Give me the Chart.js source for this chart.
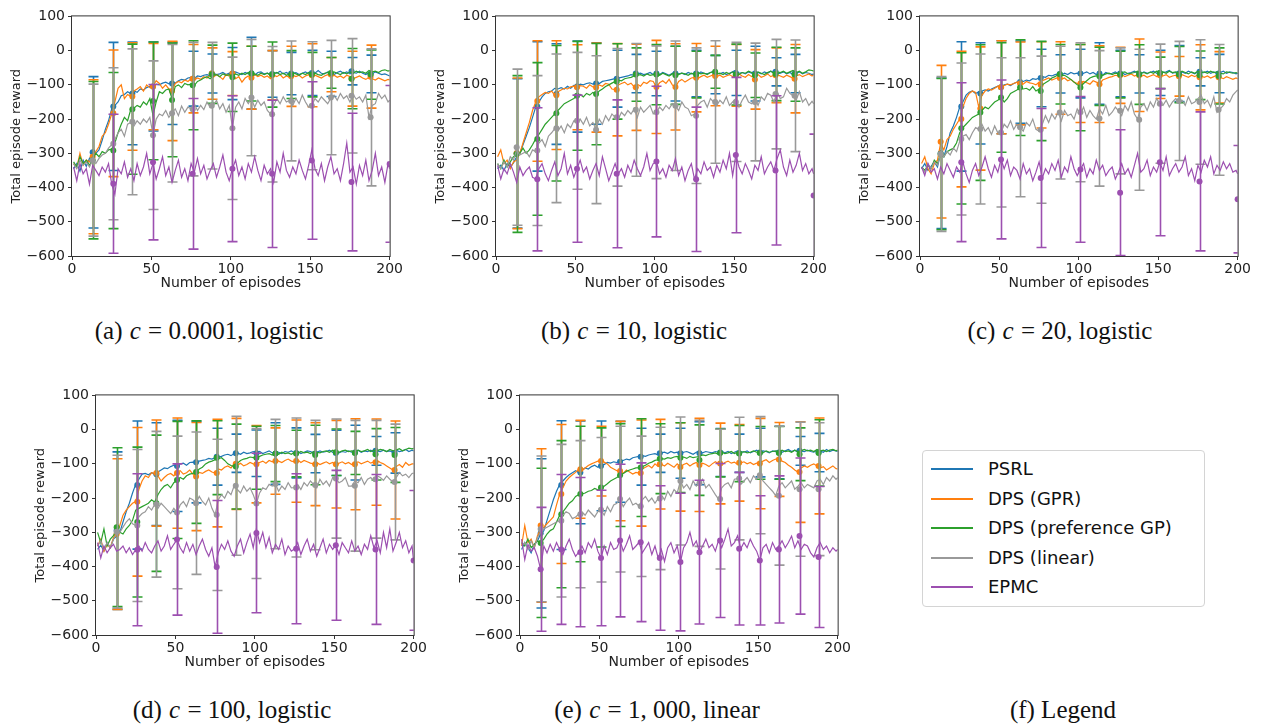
<!DOCTYPE html>
<html>
<head>
<meta charset="utf-8">
<script src="https://cdn.jsdelivr.net/npm/chart.js@4.4.1/dist/chart.umd.min.js"></script>
<style>
  body { margin: 0; background: #fff; width: 1263px; height: 724px; position: relative; overflow: hidden; font-family: "DejaVu Sans", sans-serif; }
  canvas { position: absolute; }
  .cap { position: absolute; font-family: "Liberation Serif", serif; font-size: 25px; line-height: 30px; white-space: nowrap; transform: translateX(-50%); color: #111; }
  .cap i { margin: 0 1px; }
  #legend { position: absolute; left: 922px; top: 450px; width: 281px; height: 155px; border: 1px solid #d4d4d4; border-radius: 4px; }
  #legend .row { position: absolute; left: 0; height: 24px; }
  #legend .sw { position: absolute; left: 8px; top: 11px; width: 42px; height: 2px; }
  #legend .lb { position: absolute; left: 65px; top: 0; font-size: 18px; line-height: 24px; color: #111; white-space: nowrap; }
</style>
</head>
<body>
<canvas id="ca" width="400" height="300"></canvas>
<canvas id="cb" width="400" height="300"></canvas>
<canvas id="cc" width="400" height="300"></canvas>
<canvas id="cd" width="400" height="300"></canvas>
<canvas id="ce" width="400" height="300"></canvas>

<div class="cap" style="left:209px;top:316px">(a) <i>c</i> = 0.0001, logistic</div>
<div class="cap" style="left:634px;top:316px">(b) <i>c</i> = 10, logistic</div>
<div class="cap" style="left:1060px;top:316px">(c) <i>c</i> = 20, logistic</div>
<div class="cap" style="left:232px;top:695px">(d) <i>c</i> = 100, logistic</div>
<div class="cap" style="left:657px;top:695px">(e) <i>c</i> = 1, 000, linear</div>
<div class="cap" style="left:1063px;top:695px">(f) Legend</div>

<div id="legend"></div>

<script>
// episodes (x) for the reward curves, bars every ~12.5 episodes
const episodes = Array.from({ length: 100 }, (_, i) => 2 * i + 1).concat([200]);
const barX = [13, 26, 38, 51, 63, 76, 88, 101, 113, 126, 138, 151, 163, 176, 188];
const barX25 = [26, 51, 76, 101, 126, 151, 176, 200];

const seriesNames = ['PSRL', 'DPS (GPR)', 'DPS (preference GP)', 'DPS (linear)', 'EPMC'];
const seriesColors = ['#1f77b4', '#ff7f0e', '#2ca02c', '#999999', '#9c4fb0'];
const xTicks = [0, 50, 100, 150, 200];
const yTicks = [100, 0, -100, -200, -300, -400, -500, -600];

// ---- (a) c = 0.0001, logistic ----
const psrlA = [-345,-330,-352,-320,-338,-315,-305,-300,-290,-262,
  -230,-205,-170,-160,-150,-132,-128,-120,-125,-118,
  -122,-112,-115,-108,-104,-106,-98,-100,-95,-92,
  -97,-92,-95,-88,-84,-86,-80,-78,-82,-74,
  -76,-72,-70,-74,-66,-70,-68,-64,-70,-66,
  -68,-62,-66,-70,-64,-68,-66,-72,-64,-62,
  -68,-66,-70,-64,-66,-60,-68,-64,-70,-66,
  -64,-70,-66,-62,-68,-64,-66,-58,-66,-68,
  -62,-66,-70,-64,-60,-66,-62,-68,-64,-66,
  -60,-66,-70,-64,-68,-62,-66,-70,-68,-72, -74];
const gprA = [-330,-342,-300,-335,-320,-325,-310,-295,-280,-250,
  -240,-215,-185,-150,-110,-100,-140,-128,-134,-118,
  -112,-105,-118,-100,-108,-104,-88,-96,-110,-100,
  -112,-118,-96,-90,-94,-86,-90,-82,-86,-80,
  -84,-76,-80,-72,-78,-70,-76,-84,-70,-74,
  -68,-82,-76,-92,-80,-74,-78,-70,-76,-72,
  -78,-74,-82,-72,-76,-70,-80,-74,-78,-72,
  -76,-72,-80,-74,-70,-78,-72,-76,-80,-74,
  -70,-76,-72,-78,-74,-80,-72,-76,-82,-78,
  -74,-80,-84,-78,-82,-86,-80,-84,-88,-84, -86];
const prefA = [-325,-340,-310,-330,-320,-335,-318,-300,-310,-295,
  -300,-290,-288,-270,-240,-215,-195,-205,-172,-168,
  -160,-165,-150,-158,-140,-190,-150,-120,-125,-115,
  -112,-140,-105,-100,-108,-96,-100,-98,-102,-90,
  -86,-80,-76,-82,-72,-70,-76,-68,-72,-70,
  -74,-68,-72,-66,-70,-64,-70,-68,-72,-66,
  -70,-66,-72,-68,-64,-70,-66,-72,-68,-64,
  -68,-72,-66,-70,-64,-68,-66,-70,-72,-66,
  -64,-68,-62,-66,-70,-64,-68,-62,-66,-60,
  -64,-62,-66,-58,-62,-60,-64,-58,-56,-60, -58];
const linA = [-330,-345,-320,-335,-325,-340,-320,-330,-315,-305,
  -300,-285,-275,-260,-240,-230,-250,-215,-210,-220,
  -205,-215,-200,-210,-195,-245,-200,-185,-190,-175,
  -195,-183,-170,-190,-162,-180,-165,-170,-155,-175,
  -160,-172,-150,-165,-160,-145,-170,-155,-180,-160,
  -225,-165,-150,-170,-140,-155,-140,-165,-145,-160,
  -150,-175,-185,-160,-140,-155,-135,-150,-145,-160,
  -140,-155,-130,-150,-165,-160,-140,-150,-135,-145,
  -155,-138,-130,-145,-125,-140,-132,-150,-128,-142,
  -135,-150,-130,-195,-160,-155,-125,-140,-130,-150, -145];
const epmcA = [-340,-380,-330,-360,-345,-390,-335,-350,-365,-340,
  -355,-330,-390,-420,-345,-360,-325,-370,-345,-380,
  -330,-365,-340,-300,-360,-330,-375,-345,-310,-365,
  -340,-385,-350,-320,-370,-345,-380,-330,-355,-315,
  -360,-335,-375,-350,-330,-370,-340,-305,-355,-380,
  -345,-320,-365,-340,-375,-330,-355,-310,-350,-380,
  -335,-360,-345,-385,-325,-355,-300,-350,-370,-340,
  -360,-320,-350,-375,-335,-290,-345,-365,-330,-380,
  -340,-310,-360,-345,-380,-330,-270,-355,-340,-390,
  -335,-365,-320,-380,-350,-300,-365,-340,-385,-330, -345];
const psrlMeanA = [-297,-163,-125,-105,-96,-82,-67,-67,-66,-68,-67,-65,-68,-60,-68];
const psrlErrA = [221,187,150,130,120,80,57,76,105,68,62,66,66,40,55];
const gprMeanA = [-310,-183,-134,-105,-118,-82,-67,-67,-79,-72,-75,-72,-70,-82,-76];
const gprErrA = [225,185,157,126,145,100,75,64,92,72,88,92,50,80,92];
const prefMeanA = [-320,-292,-171,-147,-144,-101,-69,-78,-67,-70,-70,-70,-65,-82,-70];
const prefErrA = [230,228,190,172,166,130,85,100,80,95,70,65,45,88,72];
const linMeanA = [-320,-272,-208,-247,-183,-171,-161,-227,-137,-186,-147,-161,-137,-132,-195];
const linErrA = [222,222,213,217,201,195,185,208,170,198,175,187,167,167,200];
const epmcMeanA = [-389,-326,-360,-345,-360,-321,-384,-331];
const epmcErrA = [203,227,220,213,215,230,201,229];

// ---- (b) c = 10, logistic ----
const psrlB = [-345,-335,-350,-330,-340,-328,-310,-300,-275,-250,
  -225,-195,-165,-150,-135,-125,-120,-118,-110,-112,
  -108,-112,-104,-110,-102,-106,-98,-100,-96,-94,
  -98,-94,-96,-90,-88,-86,-84,-82,-80,-78,
  -76,-74,-70,-72,-68,-66,-70,-68,-64,-70,
  -66,-70,-64,-68,-72,-66,-62,-68,-66,-70,
  -64,-68,-66,-70,-62,-66,-68,-64,-60,-66,
  -68,-64,-70,-66,-62,-58,-66,-64,-68,-62,
  -66,-70,-64,-68,-62,-66,-60,-64,-68,-66,
  -62,-68,-64,-70,-66,-62,-68,-64,-66,-70, -68];
const gprB = [-310,-290,-330,-320,-345,-325,-320,-300,-270,-240,
  -210,-175,-150,-135,-128,-122,-125,-118,-130,-120,
  -115,-110,-112,-106,-104,-108,-102,-104,-110,-100,
  -106,-108,-100,-104,-96,-98,-112,-114,-100,-96,
  -92,-100,-95,-106,-98,-104,-92,-96,-88,-90,
  -106,-94,-88,-96,-84,-100,-107,-90,-84,-92,
  -86,-80,-78,-82,-76,-72,-78,-74,-70,-76,
  -72,-78,-74,-70,-76,-72,-68,-74,-78,-70,
  -76,-72,-70,-78,-74,-68,-76,-72,-70,-74,
  -78,-72,-76,-80,-74,-70,-76,-72,-68,-74, -70];
const prefB = [-330,-345,-320,-340,-325,-310,-305,-300,-285,-300,
  -290,-275,-258,-245,-230,-215,-205,-195,-185,-175,
  -165,-155,-150,-145,-140,-132,-128,-135,-125,-130,
  -122,-127,-118,-112,-105,-100,-95,-90,-86,-88,
  -82,-80,-78,-74,-72,-70,-74,-68,-72,-70,
  -68,-72,-66,-70,-74,-68,-64,-70,-66,-68,
  -72,-66,-70,-64,-68,-66,-70,-64,-62,-68,
  -66,-70,-64,-68,-62,-66,-70,-64,-66,-60,
  -64,-68,-62,-66,-70,-64,-60,-66,-62,-64,
  -60,-66,-62,-58,-64,-60,-66,-62,-56,-58, -60];
const linB = [-330,-345,-325,-340,-310,-320,-290,-305,-300,-295,
  -310,-290,-295,-270,-260,-280,-250,-240,-228,-235,
  -220,-240,-215,-225,-205,-210,-200,-215,-195,-220,
  -210,-230,-200,-215,-190,-205,-185,-195,-200,-180,
  -190,-175,-185,-170,-195,-165,-180,-170,-160,-185,
  -180,-165,-175,-160,-170,-155,-162,-175,-150,-165,
  -170,-190,-185,-160,-150,-145,-165,-140,-150,-160,
  -145,-155,-135,-160,-150,-140,-165,-145,-130,-150,
  -155,-140,-160,-135,-145,-125,-130,-150,-120,-140,
  -135,-110,-125,-132,-145,-120,-150,-140,-160,-148, -155];
const epmcB = [-335,-375,-345,-360,-330,-355,-385,-340,-365,-350,
  -340,-370,-375,-345,-330,-360,-380,-350,-325,-365,
  -345,-300,-360,-335,-370,-345,-320,-355,-340,-375,
  -350,-330,-365,-310,-345,-380,-355,-330,-360,-345,
  -370,-335,-355,-320,-345,-365,-340,-300,-350,-330,
  -324,-360,-345,-370,-335,-350,-315,-365,-340,-380,
  -350,-330,-376,-345,-360,-325,-350,-340,-370,-335,
  -355,-320,-345,-300,-365,-305,-340,-360,-330,-350,
  -375,-335,-350,-310,-360,-340,-325,-350,-315,-290,
  -340,-365,-320,-355,-335,-300,-350,-330,-360,-345, -360];
const psrlMeanB = [-300,-163,-127,-105,-96,-82,-67,-67,-67,-67,-70,-65,-67,-62,-67];
const psrlErrB = [218,189,147,133,119,83,56,65,80,68,56,66,80,41,56];
const gprMeanB = [-300,-147,-130,-107,-108,-114,-107,-106,-106,-79,-74,-72,-84,-72,-82];
const gprErrB = [220,176,159,124,130,135,126,136,126,100,87,90,87,80,100];
const prefMeanB = [-302,-258,-183,-132,-127,-90,-70,-70,-72,-70,-62,-70,-72,-68,-70];
const prefErrB = [229,223,198,159,148,110,78,88,85,68,48,89,65,78,78];
const linMeanB = [-282,-292,-227,-205,-231,-195,-173,-180,-161,-190,-150,-150,-150,-127,-132];
const linErrB = [228,219,217,200,216,201,194,194,189,198,179,174,172,160,163];
const epmcMeanB = [-376,-345,-360,-324,-376,-305,-350,-423];
const epmcErrB = [209,215,216,220,211,227,218,179];

// ---- (c) c = 20, logistic ----
const psrlC = [-345,-330,-350,-338,-325,-340,-300,-310,-280,-240,
  -220,-195,-165,-150,-130,-122,-118,-125,-120,-118,
  -115,-118,-112,-108,-104,-106,-100,-98,-102,-96,
  -92,-94,-90,-86,-88,-82,-84,-80,-76,-78,
  -72,-74,-70,-68,-72,-66,-70,-64,-68,-66,
  -70,-66,-62,-68,-64,-70,-66,-72,-64,-68,
  -66,-62,-68,-64,-70,-66,-64,-60,-66,-68,
  -62,-66,-64,-60,-66,-70,-64,-62,-58,-66,
  -64,-68,-62,-66,-60,-64,-68,-62,-66,-64,
  -60,-66,-62,-68,-64,-60,-66,-62,-64,-68, -66];
const gprC = [-330,-310,-345,-360,-330,-320,-270,-290,-260,-250,
  -230,-215,-200,-165,-140,-125,-118,-122,-165,-130,
  -118,-112,-115,-110,-104,-108,-102,-98,-100,-96,
  -92,-95,-98,-90,-94,-96,-100,-92,-88,-84,
  -80,-86,-82,-78,-84,-80,-88,-84,-92,-96,
  -96,-90,-94,-98,-88,-92,-98,-86,-82,-78,
  -76,-72,-74,-70,-76,-72,-68,-74,-70,-76,
  -72,-78,-74,-70,-76,-72,-74,-70,-78,-74,
  -72,-76,-70,-74,-78,-72,-76,-70,-74,-78,
  -74,-80,-76,-72,-78,-82,-76,-80,-84,-80, -82];
const prefC = [-340,-350,-335,-345,-320,-330,-300,-310,-295,-290,
  -285,-270,-240,-225,-215,-205,-195,-190,-185,-175,
  -165,-170,-160,-150,-145,-137,-150,-140,-125,-120,
  -115,-108,-112,-110,-116,-105,-118,-112,-100,-94,
  -88,-80,-76,-70,-74,-72,-78,-84,-92,-100,
  -104,-96,-88,-80,-76,-74,-70,-72,-68,-66,
  -70,-66,-68,-64,-62,-68,-66,-64,-60,-66,
  -64,-68,-62,-66,-60,-64,-62,-66,-60,-64,
  -62,-66,-60,-64,-68,-62,-66,-60,-64,-62,
  -66,-60,-64,-62,-66,-68,-62,-64,-66,-64, -66];
const linC = [-340,-355,-330,-345,-325,-335,-300,-310,-295,-305,
  -285,-295,-265,-250,-245,-260,-240,-225,-230,-215,
  -235,-225,-245,-220,-240,-240,-215,-225,-205,-230,
  -215,-225,-235,-210,-220,-200,-230,-235,-215,-190,
  -210,-185,-200,-180,-205,-175,-190,-185,-200,-170,
  -185,-165,-195,-175,-190,-200,-170,-185,-160,-190,
  -180,-165,-176,-190,-160,-175,-150,-185,-200,-165,
  -155,-175,-150,-165,-140,-155,-160,-145,-165,-150,
  -140,-150,-145,-160,-135,-155,-150,-140,-130,-155,
  -145,-165,-135,-180,-170,-160,-140,-150,-130,-120, -115];
const epmcC = [-340,-365,-330,-355,-345,-375,-340,-360,-330,-350,
  -370,-340,-355,-326,-360,-385,-350,-330,-365,-340,
  -310,-345,-370,-335,-355,-318,-345,-320,-365,-340,
  -350,-375,-330,-360,-345,-380,-355,-325,-372,-345,
  -360,-330,-350,-320,-370,-340,-355,-310,-345,-365,
  -347,-330,-370,-345,-360,-320,-350,-335,-365,-350,
  -340,-375,-355,-330,-360,-345,-370,-335,-300,-355,
  -345,-320,-365,-340,-355,-326,-350,-310,-365,-345,
  -330,-355,-340,-310,-365,-345,-380,-335,-355,-320,
  -340,-310,-360,-335,-350,-325,-345,-330,-355,-350, -360];
const psrlMeanC = [-300,-163,-125,-107,-92,-80,-68,-67,-67,-67,-68,-65,-67,-62,-67];
const psrlErrC = [220,189,148,136,120,84,56,71,90,68,56,66,82,41,56];
const gprMeanC = [-266,-200,-169,-107,-96,-100,-80,-96,-98,-72,-72,-72,-75,-78,-78];
const gprErrC = [223,198,180,136,121,126,106,114,112,82,106,68,58,95,75];
const prefMeanC = [-302,-227,-181,-137,-108,-118,-69,-108,-75,-70,-70,-65,-70,-72,-74];
const prefErrC = [221,221,198,160,140,145,87,126,85,68,87,46,82,71,82];
const linMeanC = [-302,-258,-229,-239,-224,-231,-181,-180,-198,-176,-202,-155,-147,-150,-173];
const linErrC = [226,222,219,218,203,215,194,203,198,184,206,174,174,182,191];
const epmcMeanC = [-326,-318,-372,-347,-415,-326,-382,-434];
const epmcErrC = [232,232,203,213,184,215,203,157];

// ---- (d) c = 100, logistic ----
const psrlD = [-350,-338,-355,-330,-345,-320,-312,-300,-270,-240,
  -215,-185,-160,-145,-130,-128,-132,-126,-130,-124,
  -118,-112,-114,-108,-104,-102,-100,-98,-104,-96,
  -95,-98,-92,-90,-88,-84,-86,-82,-80,-78,
  -74,-72,-76,-70,-68,-72,-66,-70,-68,-64,
  -68,-64,-70,-66,-62,-68,-64,-66,-70,-64,
  -66,-62,-68,-64,-70,-66,-62,-64,-68,-66,
  -62,-66,-64,-60,-66,-62,-68,-64,-66,-62,
  -66,-64,-60,-66,-62,-64,-60,-66,-62,-64,
  -60,-64,-62,-66,-60,-64,-62,-58,-64,-60, -62];
const gprD = [-340,-320,-355,-335,-345,-315,-305,-280,-250,-235,
  -225,-215,-210,-175,-150,-135,-140,-126,-128,-135,
  -150,-140,-132,-128,-135,-124,-120,-130,-126,-118,
  -130,-137,-125,-128,-122,-118,-124,-127,-115,-118,
  -110,-106,-112,-100,-104,-98,-106,-102,-96,-100,
  -101,-96,-92,-98,-90,-94,-88,-92,-96,-90,
  -86,-92,-94,-88,-96,-90,-94,-98,-100,-96,
  -102,-98,-94,-100,-96,-104,-98,-94,-100,-96,
  -102,-98,-94,-100,-96,-92,-98,-94,-90,-96,
  -100,-106,-112,-118,-108,-102,-110,-96,-104,-100, -100];
const prefD = [-300,-330,-290,-340,-320,-310,-290,-300,-305,-290,
  -280,-265,-235,-230,-225,-220,-215,-205,-212,-190,
  -175,-165,-160,-170,-155,-148,-140,-145,-135,-130,
  -128,-124,-115,-110,-100,-95,-92,-88,-85,-82,
  -90,-100,-105,-108,-98,-90,-86,-84,-80,-82,
  -82,-78,-74,-72,-70,-74,-68,-72,-66,-70,
  -68,-72,-66,-70,-64,-68,-66,-70,-64,-66,
  -68,-64,-62,-66,-60,-64,-66,-62,-60,-64,
  -62,-66,-60,-64,-62,-58,-64,-60,-62,-58,
  -60,-64,-58,-62,-60,-56,-62,-58,-54,-56, -55];
const linD = [-340,-325,-350,-330,-345,-320,-305,-300,-285,-270,
  -260,-275,-280,-255,-245,-240,-225,-235,-218,-230,
  -215,-225,-235,-245,-230,-242,-220,-210,-225,-200,
  -205,-215,-195,-210,-220,-200,-230,-249,-205,-190,
  -200,-180,-190,-164,-175,-185,-165,-180,-170,-190,
  -216,-185,-170,-175,-160,-165,-159,-180,-165,-175,
  -155,-170,-169,-160,-175,-155,-165,-150,-160,-170,
  -145,-160,-150,-165,-140,-143,-155,-150,-140,-165,
  -165,-150,-155,-140,-160,-145,-140,-150,-135,-140,
  -148,-135,-145,-153,-140,-125,-135,-130,-140,-128, -127];
const epmcD = [-330,-375,-340,-360,-345,-335,-355,-350,-340,-360,
  -345,-365,-351,-340,-355,-330,-350,-360,-340,-325,
  -355,-340,-310,-350,-335,-321,-345,-360,-330,-355,
  -335,-365,-340,-320,-350,-370,-345,-401,-360,-335,
  -350,-325,-355,-370,-340,-320,-360,-330,-305,-345,
  -290,-330,-300,-345,-315,-360,-335,-350,-320,-365,
  -340,-355,-348,-330,-365,-340,-320,-355,-335,-370,
  -345,-320,-360,-335,-350,-338,-365,-330,-345,-360,
  -325,-355,-340,-365,-335,-350,-310,-345,-325,-360,
  -300,-345,-290,-355,-330,-300,-345,-325,-360,-340, -385];
const psrlMeanD = [-295,-162,-130,-106,-95,-79,-69,-69,-70,-68,-70,-68,-67,-62,-68];
const psrlErrD = [230,187,150,133,119,83,56,68,90,73,56,66,80,42,59];
const gprMeanD = [-305,-211,-127,-127,-137,-127,-100,-101,-92,-92,-101,-101,-101,-95,-118];
const gprErrD = [220,217,155,161,158,157,133,113,97,120,121,128,133,126,143];
const prefMeanD = [-285,-270,-215,-147,-124,-82,-108,-82,-70,-70,-74,-66,-68,-72,-74];
const prefErrD = [232,219,199,171,150,108,124,92,82,68,87,68,63,75,80];
const linMeanD = [-298,-280,-218,-242,-215,-249,-164,-216,-159,-169,-162,-143,-164,-145,-153];
const linErrD = [223,222,213,223,208,221,203,219,189,203,189,174,191,172,169];
const epmcMeanD = [-351,-321,-401,-302,-348,-338,-350,-382];
const epmcErrD = [222,221,194,233,219,219,219,204];

// ---- (e) c = 1,000, linear ----
const psrlE = [-350,-330,-345,-360,-335,-325,-305,-295,-265,-235,
  -205,-180,-160,-150,-140,-132,-126,-120,-125,-118,
  -112,-115,-108,-104,-110,-100,-102,-96,-98,-94,
  -96,-92,-90,-86,-88,-82,-80,-78,-76,-78,
  -74,-72,-70,-74,-68,-66,-70,-64,-68,-66,
  -70,-66,-64,-68,-72,-66,-62,-68,-64,-66,
  -68,-64,-66,-62,-68,-64,-70,-66,-62,-64,
  -66,-62,-68,-64,-60,-66,-62,-64,-68,-62,
  -64,-60,-66,-62,-58,-64,-60,-66,-62,-64,
  -60,-64,-66,-60,-62,-66,-58,-64,-60,-62, -64];
const gprE = [-340,-280,-330,-320,-345,-310,-290,-285,-275,-265,
  -255,-220,-188,-170,-150,-140,-132,-125,-116,-120,
  -112,-105,-100,-96,-92,-90,-95,-100,-110,-115,
  -120,-121,-128,-118,-124,-130,-125,-127,-115,-110,
  -105,-112,-100,-108,-101,-106,-98,-104,-110,-100,
  -109,-102,-98,-106,-100,-96,-105,-98,-102,-108,
  -100,-94,-100,-104,-96,-92,-98,-95,-102,-97,
  -94,-100,-96,-102,-98,-98,-92,-88,-96,-90,
  -86,-88,-92,-96,-104,-110,-118,-124,-112,-106,
  -110,-104,-100,-106,-112,-108,-118,-112,-106,-114, -115];
const prefE = [-330,-340,-320,-345,-335,-325,-331,-320,-305,-295,
  -290,-270,-250,-240,-228,-215,-208,-195,-190,-188,
  -185,-180,-178,-172,-176,-169,-165,-158,-150,-145,
  -140,-133,-128,-122,-118,-115,-112,-111,-108,-104,
  -98,-95,-90,-88,-85,-86,-82,-84,-80,-78,
  -82,-80,-84,-78,-82,-80,-78,-74,-76,-72,
  -70,-68,-72,-66,-70,-68,-64,-70,-66,-68,
  -64,-68,-66,-62,-66,-64,-68,-62,-66,-64,
  -62,-66,-60,-64,-62,-66,-60,-64,-62,-58,
  -62,-60,-64,-58,-62,-60,-64,-60,-58,-62, -60];
const linE = [-340,-330,-350,-325,-345,-315,-300,-290,-285,-280,
  -275,-270,-266,-250,-240,-245,-260,-255,-247,-240,
  -250,-235,-245,-255,-240,-234,-250,-225,-240,-220,
  -215,-203,-225,-210,-200,-220,-215,-224,-205,-195,
  -210,-200,-215,-201,-190,-205,-180,-195,-175,-185,
  -150,-170,-160,-175,-150,-165,-157,-145,-170,-160,
  -175,-190,-203,-170,-160,-155,-170,-145,-143,-160,
  -150,-140,-155,-135,-145,-133,-150,-160,-170,-180,
  -193,-165,-155,-170,-160,-150,-174,-165,-155,-170,
  -160,-165,-170,-150,-145,-160,-140,-150,-135,-145, -140];
const epmcE = [-320,-380,-335,-355,-345,-370,-408,-340,-360,-335,
  -355,-330,-350,-365,-340,-320,-350,-370,-358,-340,
  -360,-330,-345,-320,-355,-375,-340,-365,-330,-350,
  -345,-324,-355,-335,-310,-350,-340,-329,-360,-345,
  -330,-365,-340,-375,-350,-385,-345,-330,-360,-340,
  -387,-345,-330,-300,-340,-325,-358,-340,-320,-345,
  -335,-355,-324,-345,-320,-290,-340,-330,-310,-348,
  -330,-345,-320,-340,-355,-382,-345,-335,-360,-330,
  -350,-340,-325,-345,-330,-311,-345,-325,-350,-335,
  -340,-360,-372,-345,-330,-350,-340,-360,-345,-355, -350];
const psrlMeanE = [-303,-162,-125,-106,-94,-79,-69,-69,-69,-67,-69,-67,-67,-62,-67];
const psrlErrE = [218,188,150,131,118,83,56,73,92,70,56,71,77,42,56];
const gprMeanE = [-280,-188,-116,-92,-121,-127,-101,-109,-103,-99,-97,-99,-87,-124,-106];
const gprErrE = [224,203,143,102,145,155,131,129,136,118,112,132,108,147,140];
const prefMeanE = [-331,-247,-188,-169,-133,-111,-85,-82,-89,-68,-70,-68,-68,-72,-68];
const prefErrE = [218,215,198,174,150,143,102,102,103,70,82,77,77,77,97];
const linMeanE = [-290,-266,-247,-234,-203,-224,-201,-150,-157,-203,-143,-133,-193,-174,-174];
const linErrE = [213,223,215,211,213,205,208,187,184,204,179,171,203,196,194];
const epmcMeanE = [-408,-350,-358,-375,-324,-329,-375,-387,-358,-324,-348,-382,-350,-311,-372];
const epmcErrE = [181,219,218,198,223,232,211,201,210,225,223,189,215,228,206];

const panels = [
  { id: 'ca', left: 72, top: 15,
    lines: [psrlA, gprA, prefA, linA, epmcA],
    means: [psrlMeanA, gprMeanA, prefMeanA, linMeanA, epmcMeanA],
    errs: [psrlErrA, gprErrA, prefErrA, linErrA, epmcErrA], epmcX: barX25 },
  { id: 'cb', left: 496, top: 15,
    lines: [psrlB, gprB, prefB, linB, epmcB],
    means: [psrlMeanB, gprMeanB, prefMeanB, linMeanB, epmcMeanB],
    errs: [psrlErrB, gprErrB, prefErrB, linErrB, epmcErrB], epmcX: barX25 },
  { id: 'cc', left: 920, top: 15,
    lines: [psrlC, gprC, prefC, linC, epmcC],
    means: [psrlMeanC, gprMeanC, prefMeanC, linMeanC, epmcMeanC],
    errs: [psrlErrC, gprErrC, prefErrC, linErrC, epmcErrC], epmcX: barX25 },
  { id: 'cd', left: 96, top: 394,
    lines: [psrlD, gprD, prefD, linD, epmcD],
    means: [psrlMeanD, gprMeanD, prefMeanD, linMeanD, epmcMeanD],
    errs: [psrlErrD, gprErrD, prefErrD, linErrD, epmcErrD], epmcX: barX25 },
  { id: 'ce', left: 520, top: 394,
    lines: [psrlE, gprE, prefE, linE, epmcE],
    means: [psrlMeanE, gprMeanE, prefMeanE, linMeanE, epmcMeanE],
    errs: [psrlErrE, gprErrE, prefErrE, linErrE, epmcErrE], epmcX: barX }
];

// error bars drawn just before the marker dataset of each series
const errorBars = {
  id: 'errorBars',
  beforeDatasetDraw(chart, args) {
    const ds = chart.data.datasets[args.index];
    if (!ds.errors) return;
    const { ctx, chartArea: a, scales: { x, y } } = chart;
    ctx.save();
    ctx.beginPath();
    ctx.rect(a.left, a.top, a.width, a.height);
    ctx.clip();
    ctx.strokeStyle = ds.backgroundColor;
    ctx.lineWidth = 1.6;
    ds.data.forEach((p, i) => {
      const e = ds.errors[i];
      const px = Math.round(x.getPixelForValue(p.x)) + 0.5;
      const top = y.getPixelForValue(p.y + e);
      const bot = y.getPixelForValue(p.y - e);
      ctx.beginPath();
      ctx.moveTo(px, top); ctx.lineTo(px, bot);
      ctx.moveTo(px - 5, top); ctx.lineTo(px + 5, top);
      ctx.moveTo(px - 5, bot); ctx.lineTo(px + 5, bot);
      ctx.stroke();
    });
    ctx.restore();
  }
};

// full box around the plot, like matplotlib spines
const frame = {
  id: 'frame',
  afterDatasetsDraw(chart) {
    const { ctx, chartArea: a } = chart;
    ctx.save();
    ctx.strokeStyle = '#333';
    ctx.lineWidth = 1;
    ctx.strokeRect(a.left - 0.5, a.top - 0.5, a.width + 1, a.height + 1);
    ctx.restore();
  }
};

Chart.defaults.font.family = '"DejaVu Sans", sans-serif';
Chart.defaults.color = '#222';

const minus = v => String(v).replace('-', '\u2212');

panels.forEach(p => {
  const cv = document.getElementById(p.id);
  cv.style.left = (p.left - 68) + 'px';
  cv.style.top = (p.top - 10) + 'px';

  const datasets = [];
  seriesNames.forEach((name, s) => {
    const bx = s === 4 ? p.epmcX : barX;
    datasets.push({
      label: name,
      data: episodes.map((x, i) => ({ x: x, y: p.lines[s][i] })),
      borderColor: seriesColors[s],
      borderWidth: 1.2,
      pointRadius: 0,
      tension: 0,
      clip: 0,
      order: 10 - 2 * s
    });
    datasets.push({
      label: name + ' mean',
      data: bx.map((x, i) => ({ x: x, y: p.means[s][i] })),
      errors: p.errs[s],
      showLine: false,
      pointRadius: 3,
      pointBorderWidth: 0,
      backgroundColor: seriesColors[s],
      pointBackgroundColor: seriesColors[s],
      borderColor: seriesColors[s],
      clip: 0,
      order: 9 - 2 * s
    });
  });

  new Chart(cv, {
    type: 'line',
    data: { datasets: datasets },
    options: {
      responsive: false,
      animation: false,
      devicePixelRatio: 1,
      layout: { padding: { left: 0, top: 10, right: 12, bottom: 0 } },
      plugins: { legend: { display: false }, tooltip: { enabled: false } },
      scales: {
        x: {
          type: 'linear', min: 0, max: 200,
          afterFit: s => { s.height = 49; },
          afterBuildTicks: s => { s.ticks = xTicks.map(v => ({ value: v })); },
          ticks: { font: { size: 14 }, padding: 1, maxRotation: 0, color: '#222' },
          grid: { drawOnChartArea: false, drawTicks: true, tickLength: 4, color: '#333' },
          border: { display: false },
          title: { display: true, text: 'Number of episodes', font: { size: 14 }, color: '#222', padding: { top: 0, bottom: 13 } }
        },
        y: {
          min: -600, max: 100,
          afterFit: s => { s.width = 68; },
          afterBuildTicks: s => { s.ticks = yTicks.map(v => ({ value: v })); },
          ticks: { font: { size: 14 }, padding: 3, color: '#222', callback: minus },
          grid: { drawOnChartArea: false, drawTicks: true, tickLength: 4, color: '#333' },
          border: { display: false },
          title: { display: true, text: 'Total episode reward', font: { size: 13 }, color: '#222', padding: { top: 5, bottom: 0 } }
        }
      }
    },
    plugins: [errorBars, frame]
  });
});

// legend box (panel f)
const legend = document.getElementById('legend');
seriesNames.forEach((name, s) => {
  const row = document.createElement('div');
  row.className = 'row';
  row.style.top = (6 + s * 29.5) + 'px';
  row.innerHTML = '<span class="sw" style="background:' + seriesColors[s] + '"></span><span class="lb">' + name + '</span>';
  legend.appendChild(row);
});
</script>
</body>
</html>
